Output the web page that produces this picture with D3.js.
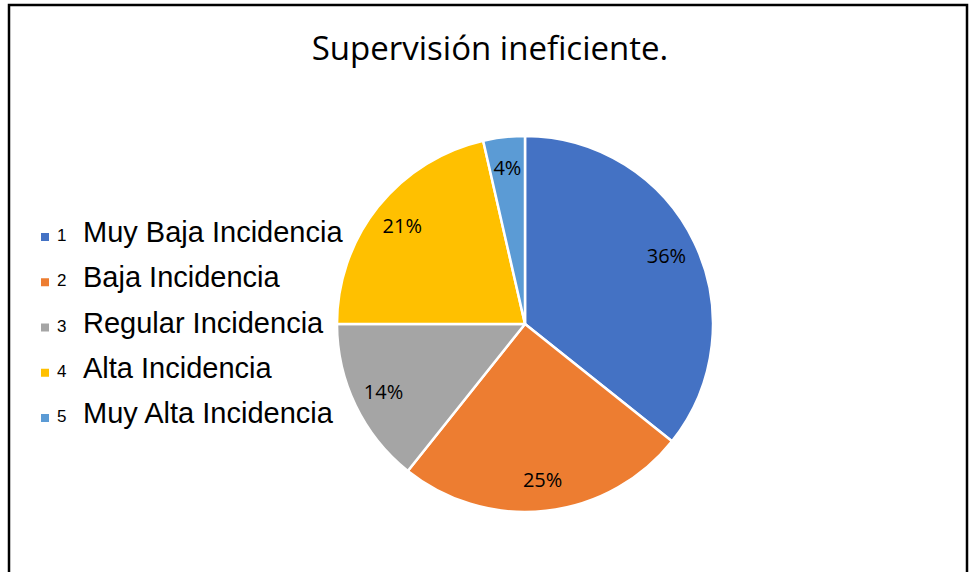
<!DOCTYPE html>
<html>
<head>
<meta charset="utf-8">
<script src="https://cdn.jsdelivr.net/npm/d3@7"></script>
<style>
  body { margin: 0; background: #fff; }
  svg { display: block; }
</style>
</head>
<body>
<svg id="chart" width="971" height="572"></svg>
<script>
// data (n = 28)
const codes = ["1", "2", "3", "4", "5"];
const categories = ["Muy Baja Incidencia", "Baja Incidencia", "Regular Incidencia", "Alta Incidencia", "Muy Alta Incidencia"];
const counts = [10, 7, 4, 6, 1];
const colors = ["#4472C4", "#ED7D31", "#A5A5A5", "#FFC000", "#5B9BD5"];
const title = "Supervisión ineficiente.";

const svg = d3.select("#chart");
const width = +svg.attr("width"), height = +svg.attr("height");

// frame (bottom edge falls outside the picture)
svg.append("rect")
  .attr("x", 9).attr("y", 5)
  .attr("width", 958).attr("height", 600)
  .attr("fill", "#fff")
  .attr("stroke", "#000")
  .attr("stroke-width", 2.5);

svg.append("text")
  .attr("x", 490).attr("y", 60)
  .attr("text-anchor", "middle")
  .style("font-family", "'Open Sans', sans-serif")
  .style("font-size", "33px")
  .attr("fill", "#000")
  .text(title);

const data = categories.map((c, i) => ({ code: codes[i], name: c, value: counts[i], color: colors[i] }));
const total = d3.sum(counts);

const cx = 525, cy = 324, r = 188;
const pie = d3.pie().value(d => d.value).sort(null);
const arc = d3.arc().innerRadius(0).outerRadius(r);
const labelArc = d3.arc().innerRadius(157).outerRadius(157);
const fmt = d3.format(".0%");

const g = svg.append("g").attr("transform", `translate(${cx},${cy})`);

g.selectAll("path")
  .data(pie(data))
  .enter()
  .append("path")
  .attr("d", arc)
  .attr("fill", d => d.data.color)
  .attr("stroke", "#fff")
  .attr("stroke-width", 2.5)
  .attr("stroke-linejoin", "round");

g.selectAll("text.pct")
  .data(pie(data))
  .enter()
  .append("text")
  .attr("class", "pct")
  .attr("transform", d => `translate(${labelArc.centroid(d)})`)
  .attr("text-anchor", "middle")
  .attr("dy", "0.35em")
  .style("font-family", "'Open Sans', sans-serif")
  .style("font-size", "20px")
  .attr("fill", "#000")
  .text(d => fmt(d.data.value / total));

// legend
const rowY = d3.scalePoint().domain(codes).range([242, 423]);
const legend = svg.append("g");
const rows = legend.selectAll("g")
  .data(data)
  .enter()
  .append("g")
  .attr("transform", d => `translate(0,${rowY(d.code)})`);

rows.append("rect")
  .attr("x", 41).attr("y", -9)
  .attr("width", 8).attr("height", 8)
  .attr("fill", d => d.color);

rows.append("text")
  .attr("x", 57).attr("y", -1)
  .style("font-family", "'Liberation Sans', Arial, sans-serif")
  .style("font-size", "17px")
  .attr("fill", "#000")
  .text(d => d.code);

rows.append("text")
  .attr("x", 83).attr("y", 0)
  .style("font-family", "'Liberation Sans', Arial, sans-serif")
  .style("font-size", "29px")
  .attr("fill", "#000")
  .text(d => d.name);
</script>
</body>
</html>
